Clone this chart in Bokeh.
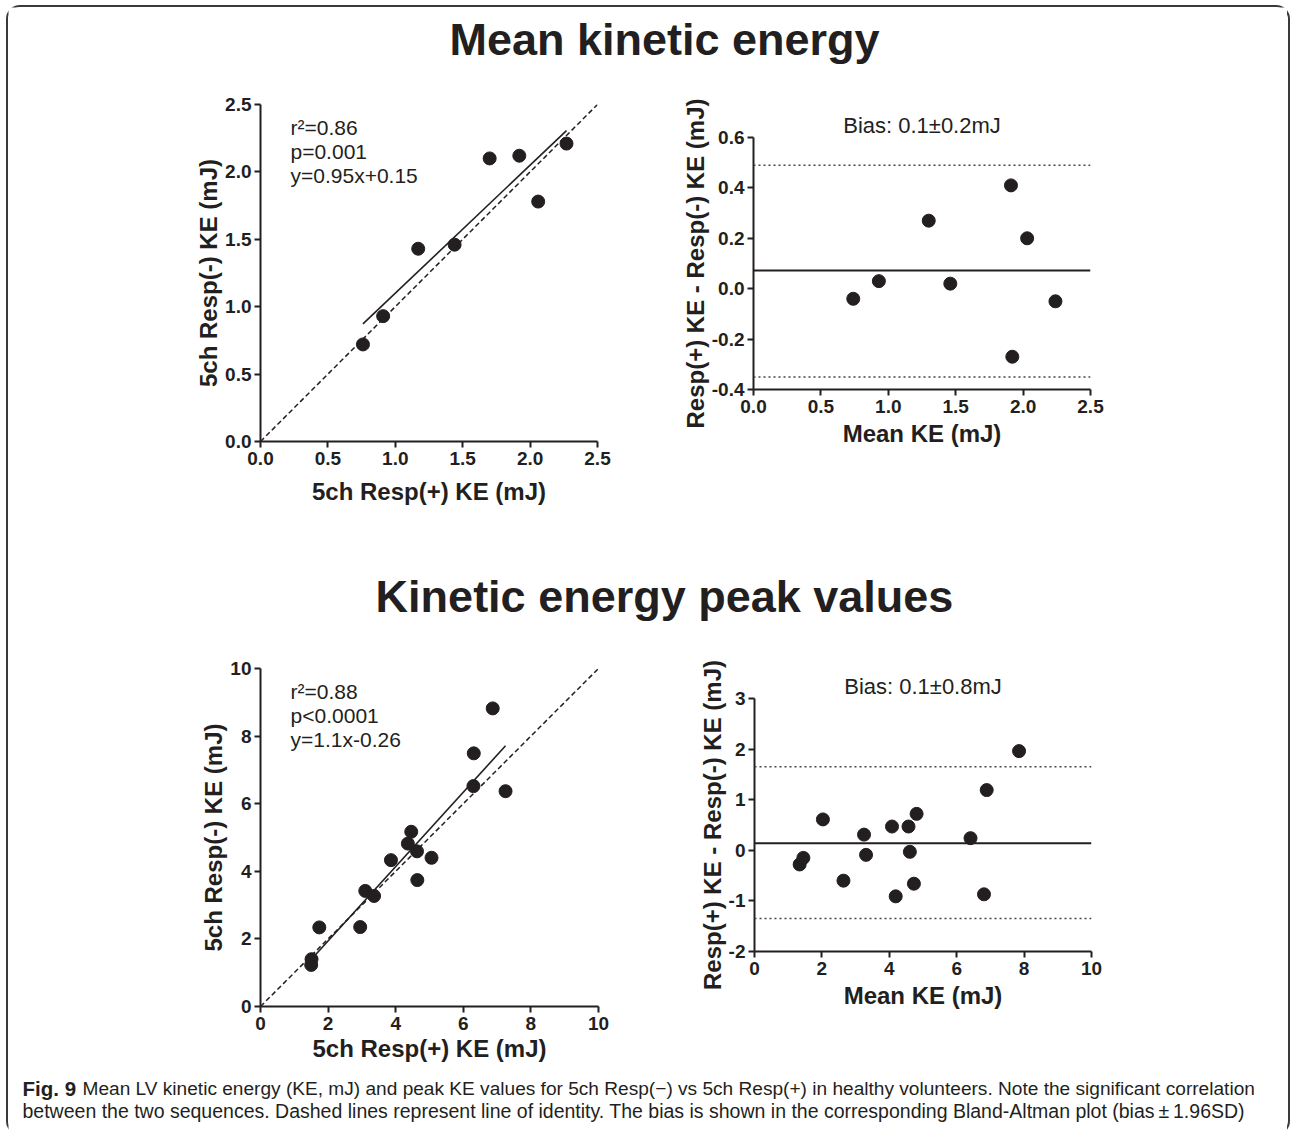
from bokeh.plotting import figure
from bokeh.models import Range1d, FixedTicker, NumeralTickFormatter, Label, Span
from bokeh.layouts import column, row
from bokeh.embed import file_html
from bokeh.resources import INLINE
from bokeh.core.properties import value

INK = "#231f20"
FONT = "Liberation Sans"
CAP_FONT = "Liberation Sans"

# ---------------- data ----------------
title_mean = "Mean kinetic energy"
title_peak = "Kinetic energy peak values"

mean_resp_plus = [0.76, 0.91, 1.17, 1.44, 1.70, 1.92, 2.06, 2.27]
mean_resp_minus = [0.72, 0.93, 1.43, 1.46, 2.10, 2.12, 1.78, 2.21]
mean_slope = 0.95
mean_intercept = 0.15
mean_stats = ["r\u00b2=0.86", "p=0.001", "y=0.95x+0.15"]
mean_ba_avg = [0.74, 0.93, 1.30, 1.46, 1.91, 2.03, 1.92, 2.24]
mean_ba_diff = [-0.04, 0.03, 0.27, 0.02, 0.41, 0.20, -0.27, -0.05]
mean_bias = 0.072
mean_loa = [0.49, -0.35]
mean_bias_text = "Bias: 0.1\u00b10.2mJ"
mean_ticks = [0, 0.5, 1.0, 1.5, 2.0, 2.5]
mean_ba_yticks = [-0.4, -0.2, 0.0, 0.2, 0.4, 0.6]

peak_resp_plus = [1.50, 1.51, 1.74, 2.95, 3.10, 3.36, 3.86, 4.36, 4.46, 4.63, 4.64, 5.06, 6.30, 6.31, 6.87, 7.25]
peak_resp_minus = [1.23, 1.40, 2.34, 2.35, 3.42, 3.27, 4.33, 4.82, 5.17, 4.59, 3.74, 4.40, 6.52, 7.49, 8.82, 6.37]
peak_slope = 1.1
peak_intercept = -0.26
peak_stats = ["r\u00b2=0.88", "p<0.0001", "y=1.1x-0.26"]
peak_ba_avg = [1.34, 1.45, 2.03, 2.64, 3.25, 3.31, 4.08, 4.19, 4.57, 4.61, 4.73, 4.81, 6.41, 6.81, 6.89, 7.85]
peak_ba_diff = [-0.28, -0.15, 0.61, -0.60, 0.31, -0.09, 0.47, -0.91, 0.47, -0.03, -0.66, 0.72, 0.24, -0.87, 1.19, 1.96]
peak_bias = 0.14
peak_loa = [1.65, -1.35]
peak_bias_text = "Bias: 0.1\u00b10.8mJ"
peak_ticks = [0, 2, 4, 6, 8, 10]
peak_ba_yticks = [-2, -1, 0, 1, 2, 3]

xlabel_scatter = "5ch Resp(+) KE (mJ)"
ylabel_scatter = "5ch Resp(-) KE (mJ)"
xlabel_ba = "Mean KE (mJ)"
ylabel_ba = "Resp(+) KE - Resp(-) KE (mJ)"

caption_bold = "Fig. 9"
caption_line1 = ("Mean LV kinetic energy (KE, mJ) and peak KE values for 5ch Resp(\u2212) vs 5ch Resp(+) "
                 "in healthy volunteers. Note the significant correlation")
caption_line2 = ("between the two sequences. Dashed lines represent line of identity. The bias is shown "
                 "in the corresponding Bland-Altman plot (bias\u2009\u00b1\u20091.96SD)")

TOTAL_W = 1279


# ---------------- helpers ----------------
def style(p, xticks, yticks, fmt, xlab_standoff):
    p.grid.visible = False
    p.outline_line_color = None
    p.background_fill_color = "white"
    p.border_fill_color = "white"
    for ax in p.axis:
        ax.axis_line_width = 2
        ax.axis_line_color = INK
        ax.major_tick_line_width = 2
        ax.major_tick_line_color = INK
        ax.major_tick_out = 6
        ax.major_tick_in = 0
        ax.minor_tick_line_color = None
        ax.major_label_text_font = FONT
        ax.major_label_text_font_size = "19px"
        ax.major_label_text_font_style = "bold"
        ax.major_label_text_color = INK
        ax.axis_label_text_font = FONT
        ax.axis_label_text_font_size = "24px"
        ax.axis_label_text_font_style = "bold"
        ax.axis_label_text_color = INK
        ax.formatter = NumeralTickFormatter(format=fmt)
    p.xaxis.ticker = FixedTicker(ticks=xticks)
    p.yaxis.ticker = FixedTicker(ticks=yticks)
    p.xaxis.major_label_standoff = 4
    p.xaxis.axis_label_standoff = xlab_standoff
    p.yaxis.major_label_standoff = 3
    p.yaxis.axis_label_standoff = 0


def make_fig(xr, yr, fw, fh, left, right, top, bottom):
    return figure(frame_width=fw, frame_height=fh,
                  x_range=Range1d(*xr), y_range=Range1d(*yr),
                  min_border_left=left, min_border_right=right,
                  min_border_top=top, min_border_bottom=bottom,
                  frame_align=False,
                  output_backend="svg", toolbar_location=None, tools="")


def scatter_panel(xs, ys, slope, intercept, stats, ticks, fmt, xlab_standoff,
                  fw, fh, left, right, top, bottom):
    lo, hi = ticks[0], ticks[-1]
    p = make_fig((lo, hi), (lo, hi), fw, fh, left, right, top, bottom)
    style(p, ticks, ticks, fmt, xlab_standoff)
    p.xaxis.axis_label = xlabel_scatter
    p.yaxis.axis_label = ylabel_scatter
    # identity line
    p.line([lo, hi], [lo, hi], line_color=INK, line_width=1.5, line_dash="5 3")
    # regression line
    x0, x1 = min(xs), max(xs)
    p.line([x0, x1], [slope * x0 + intercept, slope * x1 + intercept], line_color=INK, line_width=1.6)
    p.scatter(xs, ys, size=13, fill_color=INK, line_color=INK)
    span = hi - lo
    for i, s in enumerate(stats):
        p.add_layout(Label(x=lo + 0.089 * span, y=hi - (23 + 24 * i) / fh * span, text=s,
                           text_font=FONT, text_font_size="21px", text_color=INK,
                           text_baseline="middle"))
    return p


def ba_panel(xs, ys, bias, loa, bias_text, xticks, yticks, fmt, xlab_standoff,
             fw, fh, left, right, top, bottom):
    p = make_fig((xticks[0], xticks[-1]), (yticks[0], yticks[-1]), fw, fh, left, right, top, bottom)
    style(p, xticks, yticks, fmt, xlab_standoff)
    p.xaxis.axis_label = xlabel_ba
    p.yaxis.axis_label = ylabel_ba
    p.add_layout(Span(location=bias, dimension="width", line_color=INK, line_width=2))
    for v in loa:
        p.add_layout(Span(location=v, dimension="width", line_color="#444444", line_width=1.5, line_dash="2 3"))
    p.scatter(xs, ys, size=13, fill_color=INK, line_color=INK)
    p.title.text = bias_text
    p.title.align = "center"
    p.title.text_font = FONT
    p.title.text_font_size = "22px"
    p.title.text_font_style = "normal"
    p.title.text_color = INK
    p.title.standoff = 0
    return p


def text_strip(h):
    p = figure(frame_width=TOTAL_W, frame_height=h, x_range=Range1d(0, TOTAL_W), y_range=Range1d(0, h),
               x_axis_type=None, y_axis_type=None, min_border=0, frame_align=False,
               output_backend="svg", toolbar_location=None, tools="")
    p.title = None
    p.outline_line_color = None
    p.grid.visible = False
    p.border_fill_color = "white"
    return p


# ---------------- panels ----------------
t1 = text_strip(70)
t1.text(x=[656], y=[38.5], text=[title_mean], text_font=value(FONT), text_font_size="45px",
        text_font_style="bold", text_align="center", text_baseline="middle", text_color=INK)

pA = scatter_panel(mean_resp_plus, mean_resp_minus, mean_slope, mean_intercept, mean_stats,
                   mean_ticks, "0.0", 10, 337, 337, 252, 40, 27, 99)
pB = ba_panel(mean_ba_avg, mean_ba_diff, mean_bias, mean_loa, mean_bias_text,
              mean_ticks, mean_ba_yticks, "0.0", 4, 337, 252, 116, 197, 60, 151)

t2 = text_strip(100)
t2.text(x=[656], y=[44], text=[title_peak], text_font=value(FONT), text_font_size="45px",
        text_font_style="bold", text_align="center", text_baseline="middle", text_color=INK)

pC = scatter_panel(peak_resp_plus, peak_resp_minus, peak_slope, peak_intercept, peak_stats,
                   peak_ticks, "0", 2, 338, 338, 252, 40, 28, 59)
pD = ba_panel(peak_ba_avg, peak_ba_diff, peak_bias, peak_loa, peak_bias_text,
              peak_ticks, peak_ba_yticks, "0", 4, 337, 253, 116, 197, 58, 114)

cap = text_strip(68)
cap.text(x=[14], y=[45], text=[caption_bold], text_font=value(CAP_FONT), text_font_size="20.5px",
         text_font_style="bold", text_baseline="middle", text_color=INK)
cap.text(x=[74], y=[45], text=[caption_line1], text_font=value(CAP_FONT), text_font_size="19.1px",
         text_baseline="middle", text_color=INK)
cap.text(x=[14], y=[22.5], text=[caption_line2], text_font=value(CAP_FONT), text_font_size="19.5px",
         text_baseline="middle", text_color=INK)

layout = column(t1, row(pA, pB, spacing=0), t2, row(pC, pD, spacing=0), cap, spacing=0,
                styles={"margin": "7px 0 0 8px", "outline": "2px solid #3a3a3a",
                        "border-radius": "12px"})

open("out.html", "w").write(file_html(layout, INLINE))
